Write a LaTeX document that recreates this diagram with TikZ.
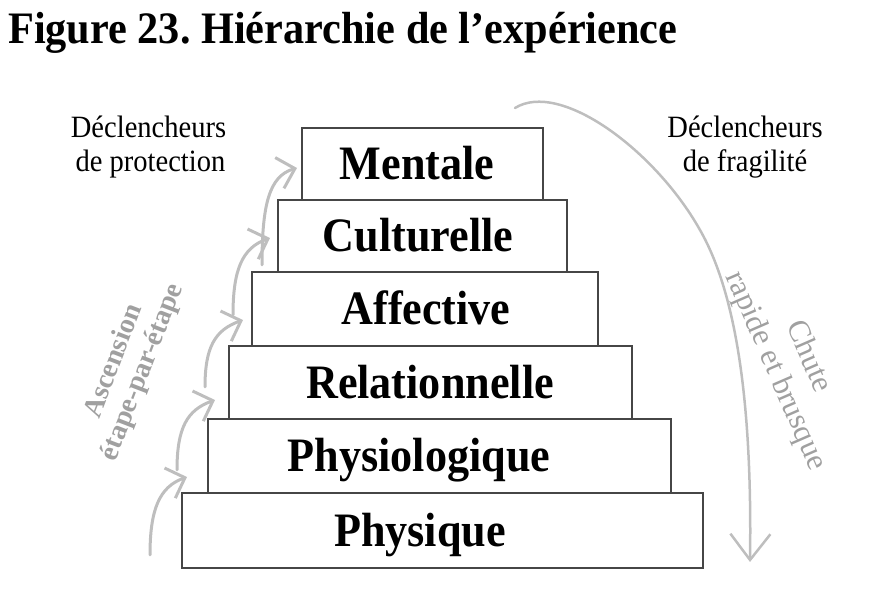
\documentclass[tikz,border=0pt]{standalone}
\usepackage{fontspec}
\setmainfont{Liberation Serif}
\newfontfamily\condfont[FakeStretch=0.92]{Liberation Serif}
\newfontfamily\titlefont[FakeStretch=0.94]{Liberation Serif}
\usetikzlibrary{arrows.meta}
\definecolor{arrgray}{RGB}{190,190,190}
\definecolor{txtgray}{RGB}{160,160,160}
\definecolor{boxline}{RGB}{70,70,70}
\frenchspacing
\begin{document}
\begin{tikzpicture}[x=1pt,y=1pt,
  stepbox/.style={draw=boxline, line width=1.4pt, fill=white, inner sep=0pt},
  lvl/.style={font=\condfont\fontsize{48}{54}\selectfont\bfseries, anchor=base, inner sep=0pt},
  side/.style={font=\condfont\fontsize{31}{34}\selectfont, anchor=base, inner sep=0pt},
  upar/.style={draw=arrgray, line width=3pt, line cap=round, -{Straight Barb[length=16pt,width=32pt]}},
  downar/.style={draw=arrgray, line width=2.5pt, line cap=round, -{Straight Barb[length=26pt,width=40pt]}}
]
\useasboundingbox (0,0) rectangle (879,604);
% title
\node[font=\titlefont\fontsize{45}{50}\selectfont\bfseries, anchor=base west, inner sep=0pt] (title) at (8,560) {Figure 23. Hiérarchie de l’expérience};
% boxes (bottom to top)
\node[stepbox, minimum width=521pt, minimum height=75pt] (b1) at (442.5,73.5) {};
\node[stepbox, minimum width=463pt, minimum height=74pt] (b2) at (439.5,148) {};
\node[stepbox, minimum width=403pt, minimum height=73pt] (b3) at (430.5,221.5) {};
\node[stepbox, minimum width=346pt, minimum height=74pt] (b4) at (425,295) {};
\node[stepbox, minimum width=289pt, minimum height=72pt] (b5) at (422.5,368) {};
\node[stepbox, minimum width=241pt, minimum height=72pt] (b6) at (422.5,440) {};
% labels
\node[lvl] (t1) at (420,57.5) {Physique};
\node[lvl] (t2) at (419,132) {Physiologique};
\node[lvl] (t3) at (430,205.5) {Relationnelle};
\node[lvl] (t4) at (426,279) {Affective};
\node[lvl] (t5) at (418,352) {Culturelle};
\node[lvl] (t6) at (417,424) {Mentale};
% side texts
\node[side] (dp1) at (148.5,466) {Déclencheurs};
\node[side] (dp2) at (150.5,432) {de protection};
\node[side] (df1) at (745,466) {Déclencheurs};
\node[side] (df2) at (745,432) {de fragilité};
% rotated texts
\node[font=\fontsize{28}{30.5}\selectfont\bfseries, text=txtgray, align=center, rotate=69, inner sep=0pt] (asc) at (128.5,237) {Ascension\\étape-par-étape};
\node[font=\fontsize{31}{36}\selectfont, text=txtgray, align=center, rotate=-66.5, inner sep=0pt] (chute) at (791.5,240) {Chute\\rapide et brusque};
% step arrows
\coordinate (a1s) at (150,49);  \coordinate (a1t) at (187,127);
\coordinate (a2s) at (177,134); \coordinate (a2t) at (215,204);
\coordinate (a3s) at (205,217); \coordinate (a3t) at (243,284);
\coordinate (a4s) at (233,289); \coordinate (a4t) at (270,366);
\coordinate (a5s) at (262,339); \coordinate (a5t) at (297,436);
\draw[upar] (a1s) .. controls +(0,45) and +(-28,-10) .. (a1t);
\draw[upar] (a2s) .. controls +(0,42) and +(-28,-10) .. (a2t);
\draw[upar] (a3s) .. controls +(0,40) and +(-28,-10) .. (a3t);
\draw[upar] (a4s) .. controls +(0,45) and +(-28,-10) .. (a4t);
\draw[upar] (a5s) .. controls +(0,60) and +(-28,-8) .. (a5t);
% fall arrow
\coordinate (fs) at (515,496); \coordinate (fm) at (700,374); \coordinate (ft) at (750,42);
\draw[downar] (fs) .. controls (560,524) and (655,454) .. (fm) .. controls (740,304) and (752,184) .. (ft);
\end{tikzpicture}
\end{document}
